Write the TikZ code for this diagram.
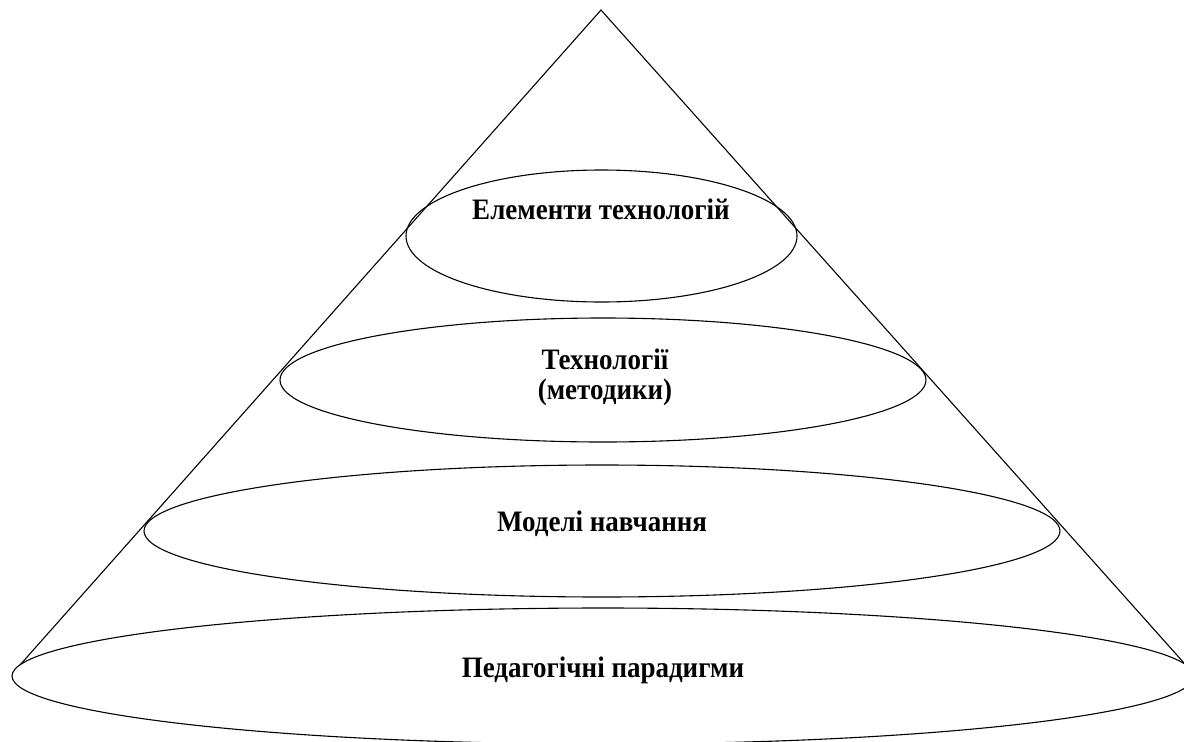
\documentclass[tikz,border=0pt]{standalone}
\usepackage{fontspec}
\setmainfont{Liberation Serif}
\newcommand{\tallish}[1]{\scalebox{1}[1.1]{#1}}
\begin{document}
\begin{tikzpicture}[x=1pt,y=-1pt,
  outline/.style={draw=black,line width=1.1pt},
  lbl/.style={font=\bfseries\fontsize{27}{34}\selectfont,inner sep=0pt,anchor=base,align=center}]
\useasboundingbox (0,0) rectangle (1184,742);
\clip (0,0) rectangle (1184,742);
% cone
\coordinate (apex) at (601,10);
\coordinate (bl) at (20,665);
\coordinate (br) at (1184,663);
\draw[outline] (bl) -- (apex) -- (br);
% layers
\draw[outline] (601.5,236) ellipse [x radius=195.5pt, y radius=66pt];
\draw[outline] (603,380) ellipse [x radius=323pt, y radius=62pt];
\draw[outline] (602,531) ellipse [x radius=458pt, y radius=66pt];
\draw[outline] (603,676) ellipse [x radius=591pt, y radius=68pt];
% labels
\node[lbl] (l1) at (601,219) {\tallish{Елементи технологій}};
\node[lbl] (l2a) at (605,369) {\tallish{Технології}};
\node[lbl] (l2b) at (605,399) {\tallish{(методики)}};
\node[lbl] (l3) at (602,531) {\tallish{Моделі навчання}};
\node[lbl] (l4) at (603,677) {\tallish{Педагогічні парадигми}};
\end{tikzpicture}
\end{document}
